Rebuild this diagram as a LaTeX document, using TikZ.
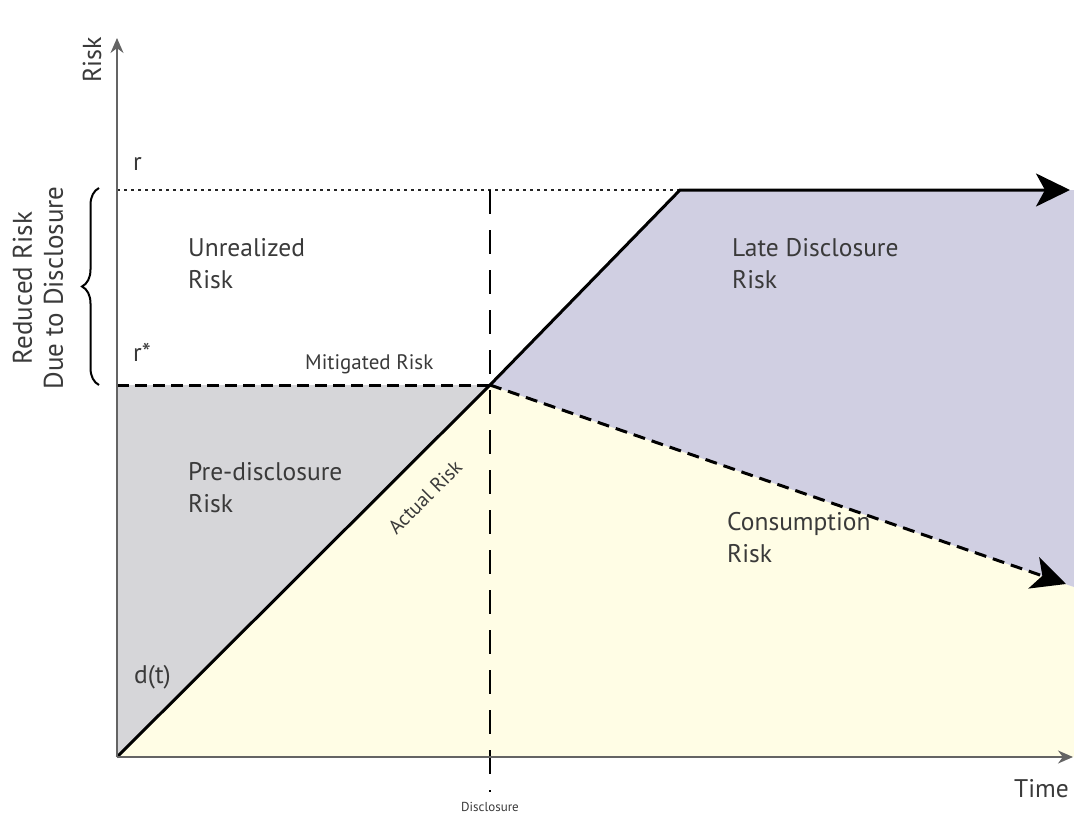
\documentclass[tikz,border=0pt]{standalone}
\usepackage{fontspec}
\setmainfont{PT Sans}
\usetikzlibrary{arrows.meta,decorations.pathreplacing}
\definecolor{preGray}{RGB}{214,214,217}
\definecolor{consYellow}{RGB}{255,253,229}
\definecolor{lateBlue}{RGB}{208,207,226}
\definecolor{txtGray}{RGB}{58,58,58}
\definecolor{axisGray}{RGB}{100,100,100}

\begin{document}
\begin{tikzpicture}[x=1pt,y=-1pt,
    axis/.style={line width=1.8pt,draw=axisGray,-{Stealth[length=15pt,width=13pt]}},
    riskline/.style={line width=3pt,line join=miter},
    bigtip/.style={-{Stealth[length=34pt,width=33pt,inset=9pt]}},
    lbl/.style={text=txtGray,font=\fontsize{25.5}{32}\selectfont,align=left,anchor=base west,inner sep=0pt},
    smalllbl/.style={text=txtGray,font=\fontsize{21}{23}\selectfont,inner sep=0pt}]
    \useasboundingbox (0,0) rectangle (1074,816);

    % 座標を定義
    \coordinate (O) at (117,757);
    \coordinate (ytop) at (117,38);
    \coordinate (xend) at (1073,757);
    \coordinate (rL) at (117,190);
    \coordinate (K) at (680,190);
    \coordinate (rEnd) at (1070,190);
    \coordinate (mL) at (117,385);
    \coordinate (M) at (490,385);
    \coordinate (cEnd) at (1066,584);
    \coordinate (dTop) at (490,190);
    \coordinate (dBot) at (490,792);
    \coordinate (tR) at (1074,190);
    \coordinate (yR) at (1074,587);
    \coordinate (bR) at (1074,757);

    % 領域を塗る
    \fill[preGray] (mL) -- (M) -- (O) -- cycle;
    \fill[consYellow] (O) -- (M) -- (yR) -- (bR) -- cycle;
    \fill[lateBlue] (M) -- (K) -- (tR) -- (yR) -- cycle;

    % 補助線を描画
    \draw[line width=2.6pt,dash pattern=on 2.6pt off 4.4pt,black!85] (rL) -- (K);
    \draw[line width=3pt,dash pattern=on 12pt off 6pt] (mL) -- (M);
    \draw[line width=1.5pt,dash pattern=on 24pt off 16pt] (dTop) -- (dBot);

    % リスクの経路を描画
    \draw[riskline,bigtip] (O) -- (M) -- (K) -- (rEnd);
    \draw[riskline,bigtip,dash pattern=on 12pt off 7pt] (M) -- (cEnd);

    % 軸を描画
    \draw[axis] (O) -- (ytop);
    \draw[axis] (O) -- (xend);

    % 波括弧
    \draw[decorate,decoration={brace,amplitude=17pt},line width=2pt] (99,385) -- (99,188);

    % ラベルを表示
    \node[smalllbl,font=\fontsize{26}{28}\selectfont,rotate=90] (riskAx) at (92,60) {Risk};
    \node[smalllbl,font=\fontsize{27}{31}\selectfont,rotate=90,align=center] (redLbl) at (38,288) {Reduced Risk\\Due to Disclosure};
    \node[lbl] (rLbl) at (133,170) {r};
    \node[lbl] (rsLbl) at (133,361) {r*};
    \node[lbl] (unreal) at (188,288) {Unrealized\\Risk};
    \node[lbl] (late) at (732,288) {Late Disclosure\\Risk};
    \node[lbl] (pre) at (188,512) {Pre-disclosure\\Risk};
    \node[lbl] (cons) at (727,562) {Consumption\\Risk};
    \node[lbl] (dt) at (134,683) {d(t)};
    \node[smalllbl,anchor=base west] (mitLbl) at (305,369) {Mitigated Risk};
    \node[smalllbl,font=\fontsize{20}{22}\selectfont,rotate=45] (actLbl) at (425,497) {Actual Risk};
    \node[smalllbl,font=\fontsize{13}{15}\selectfont,anchor=base] (discLbl) at (490,811) {Disclosure};
    \node[lbl] (timeLbl) at (1014,797) {Time};
\end{tikzpicture}
\end{document}
